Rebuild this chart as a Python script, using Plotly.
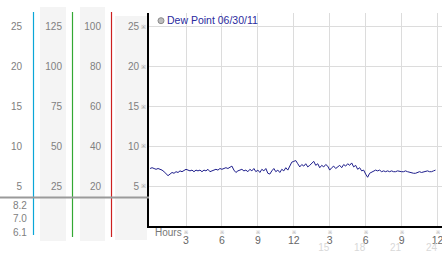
import plotly.graph_objects as go

W, H = 442, 253

# ---- data ----
dew = [
    7.2, 7.3, 7.2, 7.1, 7.2, 7.1,
    7.0, 6.8, 6.6, 6.3, 6.5, 6.7,
    6.6, 6.8, 6.7, 6.9, 6.8, 6.9,
    7.1, 7.0, 6.9, 7.0, 6.8, 7.0,
    6.9, 7.0, 6.8, 7.0, 6.9, 7.1,
    6.8, 6.9, 7.0, 7.1, 7.0, 7.2,
    7.1, 7.2, 7.3, 7.2, 7.4, 7.5,
    7.0, 6.7, 6.9, 7.0, 7.1, 6.9,
    7.0, 6.8, 7.1, 6.9, 7.2, 6.8,
    7.0, 6.7, 7.1, 6.9, 7.2, 6.6,
    6.5, 6.9, 7.2, 6.8, 7.0, 6.7,
    7.1, 6.9, 7.3, 7.0, 7.6, 8.0,
    8.1, 8.2, 7.8, 7.4, 7.7, 7.5,
    7.8, 7.4, 7.6, 7.9, 8.1, 7.6,
    7.8, 7.3, 7.6, 7.4, 7.7, 7.5,
    7.0, 7.3, 7.5, 7.2, 7.4, 7.6,
    7.3, 7.7, 7.5, 7.8, 7.6, 7.9,
    7.4, 7.6, 7.1, 7.3, 6.9, 7.0,
    6.5, 6.1, 6.6, 6.7, 6.9, 7.0,
    6.9, 7.0, 6.8, 6.9, 6.8, 6.9,
    6.8, 6.9, 6.8, 6.8, 6.9, 6.8,
    6.8, 6.8, 6.9, 6.8, 6.7, 6.6,
    6.6, 6.6, 6.7, 6.8, 6.7, 6.8,
    6.8, 6.9, 6.8, 6.8, 6.9, 7.0,
]
hours = [i / 6 for i in range(len(dew))]

y_ticks = [5, 10, 15, 20, 25]
col2_ticks = [25, 50, 75, 100, 125]
col3_ticks = [20, 40, 60, 80, 100]
x_ticks = [3, 6, 9, 12, 15, 18, 21, 24]
x_labels = ["3", "6", "9", "12", "3", "6", "9", "12"]
x2_ticks = [15, 18, 21, 24]
x2_labels = ["15", "18", "21", "24"]
stats = ["8.2", "7.0", "6.1"]
series_name = "Dew Point 06/30/11"

Y_MAX = 26.76
X_RANGE = [-0.09, 24.376]


def px(x):
    return x / W


def py(y):
    return 1 - y / H


FONT = "Liberation Sans, Arial, sans-serif"
GLYPH = "\u203b"

fig = go.Figure()
fig.add_trace(go.Scatter(x=hours, y=dew, mode="lines",
                         line=dict(color="#1e1e8c", width=1),
                         showlegend=False, hoverinfo="skip"))

ydom = [py(225.75), py(13)]

common_y = dict(showgrid=False, zeroline=False, showline=False, ticks="",
                tickfont=dict(family=FONT, size=10, color="#808080"))

fig.update_layout(
    width=W, height=H,
    margin=dict(l=0, r=0, t=0, b=0),
    paper_bgcolor="white", plot_bgcolor="white",
    showlegend=False,
    xaxis=dict(domain=[px(149), 1], range=X_RANGE, tickvals=x_ticks,
               ticktext=[GLYPH] * len(x_ticks), ticks="",
               tickfont=dict(family=FONT, size=5, color="#999"),
               ticklabelstandoff=0, ticklabeloverflow="allow",
               showgrid=True, gridcolor="#dcdcdc", gridwidth=1,
               zeroline=False, showline=True, linecolor="black", linewidth=2),
    xaxis2=dict(overlaying="x", anchor="y", side="bottom", range=X_RANGE,
                tickvals=x_ticks, ticktext=x_labels, ticks="",
                tickfont=dict(family=FONT, size=10.5, color="#666"),
                ticklabelstandoff=7, ticklabeloverflow="allow",
                showgrid=False, zeroline=False, showline=False),
    xaxis3=dict(overlaying="x", anchor="y", side="bottom", range=X_RANGE,
                tickvals=x2_ticks, ticktext=x2_labels, ticks="",
                tickfont=dict(family=FONT, size=10, color="#d8d8d8"),
                ticklabelstandoff=14, ticklabelshift=-6, ticklabeloverflow="allow",
                showgrid=False, zeroline=False, showline=False),
    yaxis=dict(domain=ydom, range=[0, Y_MAX], tickvals=y_ticks,
               ticktext=[GLYPH] * len(y_ticks), ticks="",
               tickfont=dict(family=FONT, size=6, color="#999"),
               ticklabelstandoff=0,
               showgrid=True, gridcolor="#dcdcdc", gridwidth=1,
               zeroline=False, showline=True, linecolor="black", linewidth=2),
    yaxis2=dict(overlaying="y", anchor="free", position=px(139), side="left",
                range=[0, Y_MAX], tickvals=y_ticks, **common_y),
    yaxis3=dict(overlaying="y", anchor="free", position=px(22), side="left",
                range=[0, Y_MAX], tickvals=y_ticks, **common_y),
    yaxis4=dict(overlaying="y", anchor="free", position=px(62), side="left",
                range=[0, Y_MAX * 5], tickvals=col2_ticks, **common_y),
    yaxis5=dict(overlaying="y", anchor="free", position=px(101), side="left",
                range=[0, Y_MAX * 4], tickvals=col3_ticks, **common_y),
)

# dummy traces to activate overlay axes
for xa, ya in [("x2", "y"), ("x3", "y"), ("x", "y2"), ("x", "y3"), ("x", "y4"), ("x", "y5")]:
    fig.add_trace(go.Scatter(x=[None], y=[None], xaxis=xa, yaxis=ya,
                             showlegend=False, hoverinfo="skip"))

shapes = []
# light gray column backgrounds
for x0, x1, y0, y1 in [(40, 66, 7, 241), (80, 105, 7, 241), (115, 147, 16, 240)]:
    shapes.append(dict(type="rect", xref="paper", yref="paper",
                       x0=px(x0), x1=px(x1), y0=py(y1), y1=py(y0),
                       fillcolor="#f4f4f4", line=dict(width=0), layer="below"))
# coloured vertical separators
for xx, y1, col in [(33.5, 235, "#0aa6d8"), (72.5, 237, "#33a833"), (111.5, 237, "#cc2020")]:
    shapes.append(dict(type="line", xref="paper", yref="paper",
                       x0=px(xx), x1=px(xx), y0=py(12), y1=py(y1),
                       line=dict(color=col, width=1.2)))
# horizontal gray rule
shapes.append(dict(type="line", xref="paper", yref="paper",
                   x0=0, x1=px(149), y0=py(197.5), y1=py(197.5),
                   line=dict(color="#9a9a9a", width=2)))
# legend circle
shapes.append(dict(type="circle", xref="paper", yref="paper",
                   x0=px(158), x1=px(164), y0=py(23.7), y1=py(17.7),
                   fillcolor="#bdbdbd", line=dict(color="#8a8a8a", width=1)))
fig.update_layout(shapes=shapes)

annotations = [
    dict(text=series_name, xref="paper", yref="paper", x=px(165), y=py(20.5),
         xanchor="left", yanchor="middle", showarrow=False,
         font=dict(family=FONT, size=10.5, color="#2a2a9e")),
    dict(text="Hours", xref="paper", yref="paper", x=px(153), y=py(232),
         xanchor="left", yanchor="middle", showarrow=False,
         font=dict(family=FONT, size=10, color="#777")),
]
for s, yy in zip(stats, [205, 218.5, 232.5]):
    annotations.append(dict(text=s, xref="paper", yref="paper", x=px(19.5), y=py(yy),
                            xanchor="center", yanchor="middle", showarrow=False,
                            font=dict(family=FONT, size=10, color="#808080")))
fig.update_layout(annotations=annotations)

fig.write_html("out.html")
